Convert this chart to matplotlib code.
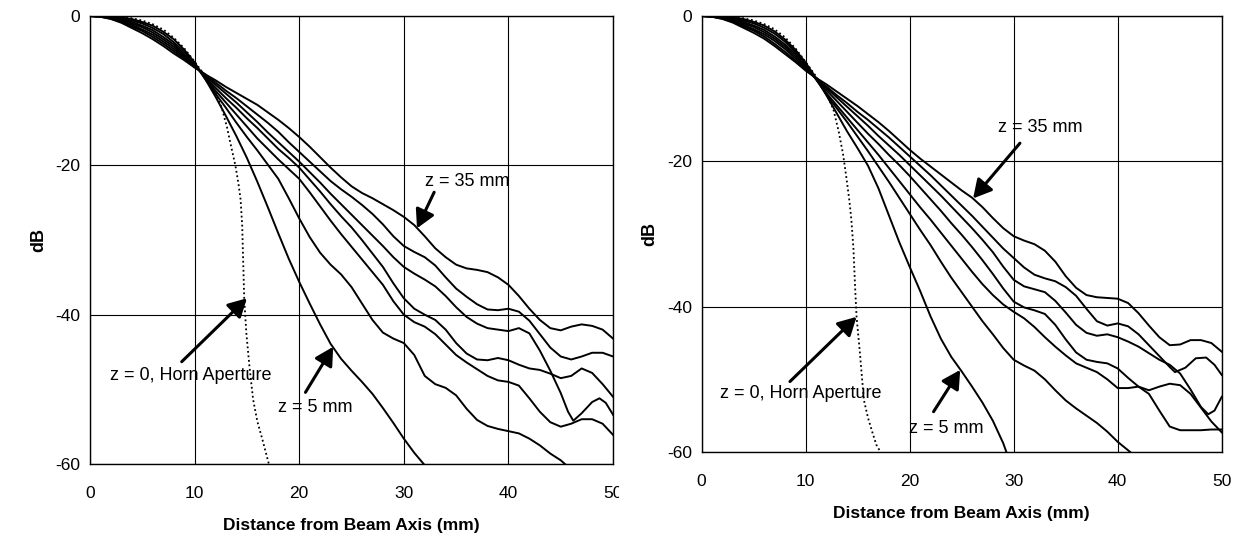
import matplotlib
matplotlib.use("Agg")
import matplotlib.pyplot as plt
from matplotlib.transforms import Bbox, TransformedBbox

plt.rcParams["font.family"] = ["Liberation Sans", "DejaVu Sans"]
plt.rcParams["axes.unicode_minus"] = False

# ── Data (distance in mm, level in dB) ─────────────────────────────────────────

X_MM = [0, 1, 2, 3, 4, 5, 6, 7, 8, 9, 10, 11, 12, 13, 14, 15, 16, 17, 18, 19, 20,
        21, 22, 23, 24, 25, 26, 27, 28, 29, 30, 31, 32, 33, 34, 35, 36, 37, 38, 39, 40,
        41, 42, 43, 44, 45, 46, 47, 48, 49, 50]

# left chart
L_Z0_X = [0, 1, 2, 3, 4, 5, 6, 7, 8, 9, 10, 11, 12, 12.6, 13.1, 13.5, 13.9, 14.2, 14.4,
          14.55, 14.65, 14.75, 14.95, 15.25, 15.6, 16.0, 16.5, 17.1]
L_Z0_Y = [0, 0, -0.05, -0.15, -0.3, -0.6, -1.1, -1.8, -2.9, -4.3, -6.1, -8.0, -10.3, -12.3,
          -14.9, -17.5, -20, -22.5, -24.6, -28, -33, -38, -42.5, -47, -51.4, -54.3, -56.8, -60]

L_Z5_X = [0, 1, 2, 3, 4, 5, 6, 7, 8, 9, 10, 11, 12, 13, 14, 15, 16, 17, 18, 19, 20,
          21, 22, 23, 24, 25, 26, 27, 28, 29, 30, 31, 31.9]
L_Z5_Y = [0, 0, -0.1, -0.2, -0.4, -0.8, -1.3, -2.1, -3.1, -4.5, -6.2, -8.4, -10.8, -13.4,
          -16.1, -19.0, -22.2, -25.6, -29.1, -32.5, -35.6, -38.5, -41.3, -43.9, -45.9, -47.5,
          -49.0, -50.6, -52.5, -54.5, -56.6, -58.5, -60]

L_Z10_X = [0, 1, 2, 3, 4, 5, 6, 7, 8, 9, 10, 11, 12, 13, 14, 15, 16, 17, 18, 19, 20,
           21, 22, 23, 24, 25, 26, 27, 28, 29, 30, 31, 32, 33, 34, 35, 36, 37, 38, 39, 40,
           41, 42, 43, 44, 45, 45.4]
L_Z10_Y = [0, -0.02, -0.15, -0.35, -0.6, -1.0, -1.6, -2.4, -3.5, -4.8, -6.4, -8.4, -10.4,
           -12.3, -14.3, -16.2, -18.0, -19.9, -21.8, -24.4, -27.1, -29.6, -31.7, -33.3, -34.6,
           -36.3, -38.5, -40.7, -42.4, -43.2, -43.8, -45.4, -48.2, -49.3, -49.8, -50.8, -52.6,
           -54.1, -54.9, -55.3, -55.6, -55.9, -56.6, -57.5, -58.6, -59.5, -60]

L_Z15_Y = [0, -0.04, -0.2, -0.45, -0.8, -1.3, -1.9, -2.8, -3.8, -5.1, -6.5, -8.2, -10.0,
           -11.6, -13.2, -14.8, -16.4, -17.8, -19.2, -20.5, -21.8, -23.6, -25.5, -27.4, -29.2,
           -30.9, -32.6, -34.3, -36.0, -38.2, -40.0, -41.0, -41.6, -42.6, -44.0, -45.4, -46.4,
           -47.3, -48.2, -48.8, -49.0, -49.5, -51.2, -53.0, -54.4, -55.0, -54.6, -54.0, -54.0,
           -54.6, -56.1]

L_Z20_Y = [0, -0.06, -0.25, -0.55, -1.0, -1.5, -2.2, -3.1, -4.1, -5.3, -6.6, -8.1, -9.6,
           -11.0, -12.3, -13.7, -15.0, -16.4, -17.8, -19.0, -20.3, -21.9, -23.5, -25.2, -26.8,
           -28.3, -30.0, -31.8, -33.6, -35.8, -37.8, -39.2, -40.0, -40.7, -42.0, -43.8, -45.2,
           -46.0, -46.1, -45.8, -46.1, -46.7, -47.2, -47.4, -47.9, -48.5, -48.2, -47.2, -47.8,
           -49.3, -51.0]

L_Z25_X = [0, 1, 2, 3, 4, 5, 6, 7, 8, 9, 10, 11, 12, 13, 14, 15, 16, 17, 18, 19, 20,
           21, 22, 23, 24, 25, 26, 27, 28, 29, 30, 31, 32, 33, 34, 35, 36, 37, 38, 39, 40,
           41, 42, 43, 44, 45, 45.7, 46.2, 47, 48, 48.7, 49.3, 50]
L_Z25_Y = [0, -0.08, -0.3, -0.7, -1.2, -1.8, -2.5, -3.4, -4.4, -5.5, -6.7, -7.9, -9.2,
           -10.4, -11.6, -12.9, -14.2, -15.6, -16.9, -18.2, -19.5, -20.9, -22.3, -23.8, -25.2,
           -26.6, -28.0, -29.4, -30.8, -32.3, -33.6, -34.5, -35.3, -36.2, -37.5, -39.0, -40.3,
           -41.2, -41.8, -42.0, -42.2, -41.8, -42.5, -44.8, -47.5, -50.5, -53.0, -54.2, -53.2,
           -51.7, -51.2, -51.8, -53.4]

L_Z30_Y = [0, -0.09, -0.35, -0.8, -1.4, -2.0, -2.8, -3.7, -4.7, -5.7, -6.8, -7.8, -8.9,
           -10.0, -11.0, -12.1, -13.2, -14.3, -15.5, -16.9, -18.2, -19.5, -20.8, -22.1, -23.2,
           -24.2, -25.3, -26.5, -27.9, -29.5, -30.8, -31.6, -32.3, -33.4, -35.0, -36.5, -37.6,
           -38.6, -39.3, -39.4, -39.2, -39.6, -40.8, -42.6, -44.4, -45.6, -46.0, -45.6, -45.1,
           -45.1, -45.6]

L_Z35_Y = [0, -0.1, -0.4, -0.9, -1.6, -2.3, -3.1, -4.0, -5.0, -5.9, -6.9, -7.8, -8.6,
           -9.5, -10.3, -11.1, -11.9, -12.9, -13.9, -15.0, -16.2, -17.5, -18.9, -20.3, -21.6,
           -22.8, -23.7, -24.4, -25.2, -26.0, -26.9, -28.0, -29.5, -31.1, -32.3, -33.3, -33.8,
           -34.0, -34.3, -35.0, -36.0, -37.5, -39.2, -40.7, -41.8, -42.1, -41.6, -41.3, -41.5,
           -42.0, -43.2]

# right chart
R_Z0_X = [0, 1, 2, 3, 4, 5, 6, 7, 8, 9, 10, 11, 12, 12.7, 13.2, 13.6, 13.9, 14.2, 14.4,
          14.6, 14.75, 14.9, 15.2, 15.6, 16.0, 16.4, 16.8, 17.2]
R_Z0_Y = [0, 0, -0.05, -0.15, -0.3, -0.6, -1.1, -1.8, -2.9, -4.4, -6.3, -8.3, -10.6, -13.0,
          -16, -19, -22, -25.3, -28, -32, -37, -41.4, -46, -52.8, -55.3, -57.2, -59.0, -60]

R_Z5_X = [0, 1, 2, 3, 4, 5, 6, 7, 8, 9, 10, 11, 12, 13, 14, 15, 16, 17, 18, 19, 20,
          21, 22, 23, 24, 25, 26, 27, 28, 29, 29.3]
R_Z5_Y = [0, 0, -0.1, -0.2, -0.4, -0.8, -1.3, -2.1, -3.2, -4.6, -6.4, -8.5, -10.9, -13.4,
          -15.9, -18.2, -20.6, -23.7, -27.4, -31.1, -34.5, -37.8, -41.3, -44.4, -46.9, -48.9,
          -51.0, -53.2, -55.7, -58.8, -60]

R_Z10_X = [0, 1, 2, 3, 4, 5, 6, 7, 8, 9, 10, 11, 12, 13, 14, 15, 16, 17, 18, 19, 20,
           21, 22, 23, 24, 25, 26, 27, 28, 29, 30, 31, 32, 33, 34, 35, 36, 37, 38, 39, 40, 41.2]
R_Z10_Y = [0, -0.02, -0.15, -0.35, -0.6, -1.0, -1.6, -2.4, -3.5, -4.9, -6.6, -8.7, -10.8,
           -12.7, -14.6, -16.6, -18.6, -20.7, -22.8, -25.0, -27.2, -29.4, -31.5, -33.8, -36.0,
           -38.0, -40.0, -42.0, -43.8, -45.7, -47.3, -48.1, -48.8, -50.0, -51.5, -52.9, -54.0,
           -55.0, -56.0, -57.2, -58.6, -60]

R_Z15_Y = [0, -0.04, -0.2, -0.45, -0.8, -1.3, -1.9, -2.8, -3.9, -5.2, -6.8, -8.7, -10.6,
           -12.3, -14.0, -15.7, -17.4, -19.1, -20.9, -22.7, -24.5, -26.3, -28.0, -29.8, -31.6,
           -33.4, -35.2, -36.9, -38.4, -39.7, -40.7, -41.6, -42.8, -44.2, -45.5, -46.7, -47.8,
           -48.4, -49.0, -50.0, -51.2, -51.2, -51.0, -52.0, -54.3, -56.5, -57.0, -57.0, -57.0,
           -56.9, -56.9]

R_Z20_Y = [0, -0.06, -0.25, -0.55, -1.0, -1.5, -2.2, -3.1, -4.2, -5.5, -7.0, -8.6, -10.2,
           -11.7, -13.2, -14.7, -16.2, -17.6, -19.1, -20.5, -22.0, -23.6, -25.2, -26.8, -28.5,
           -30.1, -31.8, -33.6, -35.5, -37.5, -39.3, -40.1, -40.5, -41.0, -42.5, -44.5, -46.3,
           -47.3, -47.6, -47.8, -48.5, -49.8, -51.0, -51.5, -51.0, -50.6, -50.8, -52.0, -53.9,
           -55.8, -57.3]

R_Z25_X = [0, 1, 2, 3, 4, 5, 6, 7, 8, 9, 10, 11, 12, 13, 14, 15, 16, 17, 18, 19, 20,
           21, 22, 23, 24, 25, 26, 27, 28, 29, 30, 31, 32, 33, 34, 35, 36, 37, 38, 39, 40,
           41, 42, 43, 44, 45, 46, 47, 48, 48.7, 49.3, 50]
R_Z25_Y = [0, -0.08, -0.3, -0.7, -1.2, -1.8, -2.5, -3.4, -4.5, -5.8, -7.2, -8.6, -9.9,
           -11.2, -12.5, -13.8, -15.1, -16.5, -17.8, -19.1, -20.5, -21.9, -23.3, -24.7, -26.2,
           -27.7, -29.2, -30.8, -32.5, -34.5, -36.3, -37.2, -37.6, -38.0, -39.2, -40.8, -42.5,
           -43.6, -44.0, -43.8, -44.2, -44.8, -45.5, -46.4, -47.3, -48.0, -49.2, -51.4, -53.8,
           -54.8, -54.3, -52.4]

R_Z30_X = [0, 1, 2, 3, 4, 5, 6, 7, 8, 9, 10, 11, 12, 13, 14, 15, 16, 17, 18, 19, 20,
           21, 22, 23, 24, 25, 26, 27, 28, 29, 30, 31, 32, 33, 34, 35, 36, 37, 38, 39, 40,
           41, 42, 43, 44, 45, 45.5, 46.5, 47.5, 48.5, 49.3, 50]
R_Z30_Y = [0, -0.09, -0.35, -0.8, -1.4, -2.0, -2.8, -3.8, -4.9, -6.1, -7.4, -8.6, -9.7,
           -10.9, -12.0, -13.2, -14.3, -15.5, -16.7, -18.0, -19.3, -20.6, -21.9, -23.3, -24.7,
           -26.1, -27.5, -29.0, -30.5, -32.0, -33.3, -34.6, -35.6, -36.1, -36.5, -37.3, -38.5,
           -40.3, -42.0, -42.6, -42.3, -42.7, -43.8, -45.3, -46.8, -48.3, -49.0, -48.4, -47.1,
           -47.0, -48.0, -49.4]

R_Z35_Y = [0, -0.1, -0.4, -0.9, -1.6, -2.3, -3.1, -4.1, -5.2, -6.3, -7.5, -8.5, -9.4,
           -10.4, -11.4, -12.4, -13.5, -14.6, -15.8, -17.1, -18.4, -19.6, -20.7, -21.8, -22.9,
           -24.0, -25.0, -26.3, -27.8, -29.2, -30.3, -30.9, -31.4, -32.3, -33.8, -35.8, -37.4,
           -38.4, -38.7, -38.8, -38.9, -39.5, -40.9, -42.6, -44.2, -45.3, -45.2, -44.6, -44.6,
           -45.0, -46.2]

LEFT_SOLID = [(L_Z5_X, L_Z5_Y), (L_Z10_X, L_Z10_Y), (X_MM, L_Z15_Y), (X_MM, L_Z20_Y),
              (L_Z25_X, L_Z25_Y), (X_MM, L_Z30_Y), (X_MM, L_Z35_Y)]
RIGHT_SOLID = [(R_Z5_X, R_Z5_Y), (R_Z10_X, R_Z10_Y), (X_MM, R_Z15_Y), (X_MM, R_Z20_Y),
               (R_Z25_X, R_Z25_Y), (R_Z30_X, R_Z30_Y), (X_MM, R_Z35_Y)]

X_TICKS = [0, 10, 20, 30, 40, 50]
Y_TICKS = [0, -20, -40, -60]

# ── Plot ───────────────────────────────────────────────────────────────────────

fig = plt.figure(figsize=(12.39, 5.45), dpi=100)
ax1 = fig.add_axes([0.0726, 0.1486, 0.4222, 0.8220])
ax2 = fig.add_axes([0.5662, 0.1706, 0.4199, 0.8000])

ARROW = dict(arrowstyle="-|>,head_length=0.55,head_width=0.3", color="black",
             lw=2.2, shrinkA=0, shrinkB=0, mutation_scale=20)


def style(ax):
    ax.set_xlim(0, 50)
    ax.set_ylim(-60, 0)
    ax.set_xticks(X_TICKS)
    ax.set_yticks(Y_TICKS)
    ax.grid(True, color="black", linewidth=0.8)
    ax.tick_params(length=0, labelsize=12.5)
    ax.tick_params(axis="x", pad=16)
    ax.tick_params(axis="y", pad=7)
    for spine in ax.spines.values():
        spine.set_color("black")
        spine.set_linewidth(1.0)
    ax.set_xlabel("Distance from Beam Axis (mm)", fontsize=12.5, fontweight="bold", labelpad=12)
    ax.set_ylabel("dB", fontsize=13, fontweight="bold", labelpad=6)


def draw(ax, solid, z0x, z0y):
    for xs, ys in solid:
        ax.plot(xs, ys, color="black", lw=1.4, solid_joinstyle="round")
    ax.plot(z0x, z0y, color="black", lw=1.3, linestyle=(0, (1, 1.5)))


def note(ax, text, tail, tip, pos):
    ax.annotate("", xy=tip, xytext=tail, arrowprops=ARROW)
    ax.text(pos[0], pos[1], text, fontsize=13, ha="center", va="center")


draw(ax1, LEFT_SOLID, L_Z0_X, L_Z0_Y)
style(ax1)
note(ax1, "z = 35 mm", (32.9, -23.6), (31.26, -28.43), (36.1, -22.2))
note(ax1, "z = 0, Horn Aperture", (8.77, -46.3), (15.0, -37.8), (9.6, -48.1))
note(ax1, "z = 5 mm", (20.6, -50.4), (23.25, -44.3), (21.5, -52.4))

draw(ax2, RIGHT_SOLID, R_Z0_X, R_Z0_Y)
style(ax2)
note(ax2, "z = 35 mm", (30.6, -17.5), (26.1, -25.1), (32.6, -15.3))
note(ax2, "z = 0, Horn Aperture", (8.5, -50.3), (14.9, -41.4), (9.55, -51.9))
note(ax2, "z = 5 mm", (22.3, -54.45), (24.86, -48.7), (23.5, -56.7))

# the last tick label of the left chart is cut off by the right chart's area
fig.canvas.draw()
clip = TransformedBbox(Bbox([[0, 0], [619 / 1239, 1]]), fig.transFigure)
lbl = ax1.xaxis.get_major_ticks()[-1].label1
lbl.set_clip_box(clip)
lbl.set_clip_on(True)

fig.savefig("out.png", dpi=100, facecolor="white")
